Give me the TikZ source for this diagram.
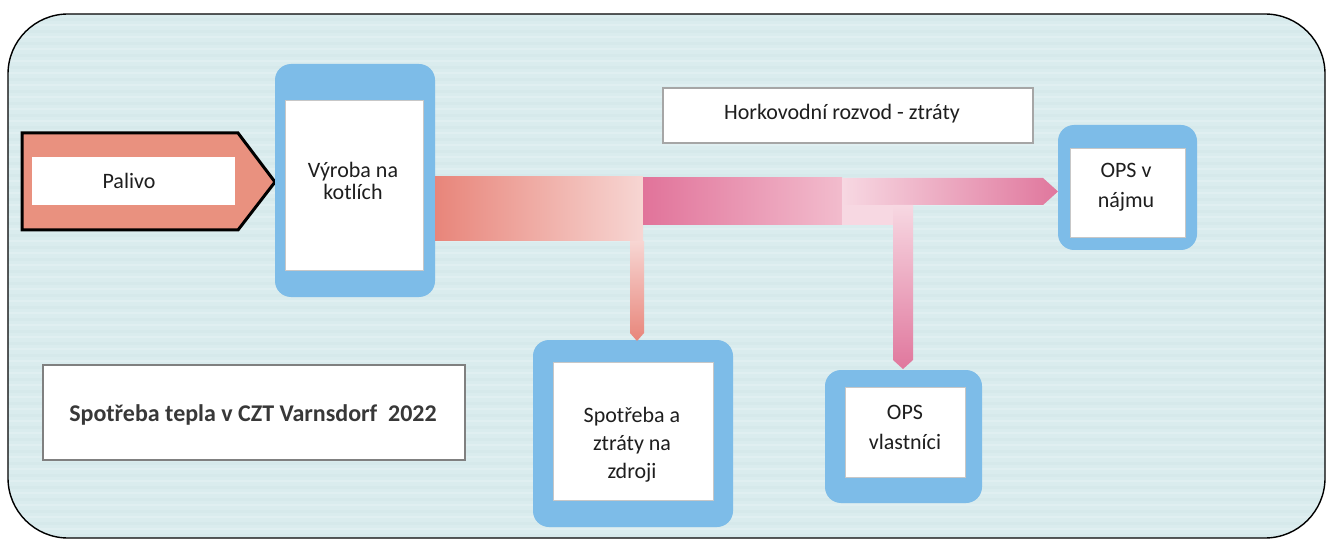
\documentclass[tikz,border=0pt]{standalone}
\usepackage{fontspec}
\setmainfont{Carlito}
\definecolor{bgblue}{HTML}{DAECEE}
\definecolor{bgdark}{HTML}{CFE4E8}
\definecolor{frameblue}{HTML}{7DBCE8}
\definecolor{salmon}{HTML}{E9917F}
\definecolor{salA}{HTML}{E8857A}
\definecolor{salM}{HTML}{F0AEA6}
\definecolor{salB}{HTML}{F7D6D3}
\definecolor{pinkA}{HTML}{E1739A}
\definecolor{pinkM}{HTML}{EA98B4}
\definecolor{pinkB}{HTML}{F2BCCD}
\definecolor{pinkL}{HTML}{F7D8E2}
\definecolor{pinkE}{HTML}{E0779D}
\definecolor{txt}{HTML}{1E1E1E}
\begin{document}
\begin{tikzpicture}[x=1pt,y=-1pt,
  frame/.style={fill=frameblue, rounded corners=16pt, inner sep=0pt, outer sep=0pt},
  wbox/.style={fill=white, draw=black!22, line width=0.8pt, inner sep=0pt, outer sep=0pt},
  gbox/.style={fill=white, draw=black!35, line width=1.2pt, inner sep=0pt, outer sep=0pt},
  lbl/.style={align=center, text=txt, inner sep=0pt, font=\fontsize{22}{23}\selectfont},
]
\useasboundingbox (0,0) rectangle (1328,540);
\fill[white] (0,0) rectangle (1328,540);
% background panel
\begin{scope}
  \clip[rounded corners=60pt] (8,14) rectangle (1325,538);
  \fill[bgblue] (8,14) rectangle (1325,538);
  \foreach \yy in {18,30,...,534} \fill[bgdark,opacity=0.35] (8,\yy) rectangle (1325,\yy+3);
  \foreach \yy in {24,36,...,534} \fill[white,opacity=0.18] (8,\yy) rectangle (1325,\yy+2);
\end{scope}
\draw[black, line width=1.4pt, rounded corners=60pt] (8,14) rectangle (1325,538);

% Palivo arrow
\draw[line width=3pt, fill=salmon, line join=miter] (22,133) -- (238,133) -- (275,182) -- (238,230) -- (22,230) -- cycle;
\node[fill=white, inner sep=0pt, minimum width=203pt, minimum height=48pt] (palivo) at (133.5,181) {};
\node[lbl] (palivoT) at (129,181) {Palivo};

% frames
\node[frame, minimum width=160pt, minimum height=233pt] (vyrobaF) at (355,180.5) {};
\node[wbox, minimum width=138pt, minimum height=170pt] (vyroba) at (354,185) {};
\node[lbl, font=\fontsize{22}{22}\selectfont] (vyrobaT) at (353,181) {Výroba na\\kotlích};

\node[frame, minimum width=200pt, minimum height=187pt] (spotrebaF) at (633,433.5) {};
\node[wbox, minimum width=160pt, minimum height=138pt] (spotreba) at (633,431) {};
\node[lbl, font=\fontsize{22}{28}\selectfont] (spotrebaT) at (632,445) {Spotřeba a\\ztráty na\\zdroji};

\node[frame, minimum width=157pt, minimum height=133pt] (vlastF) at (903.5,436.5) {};
\node[wbox, minimum width=120pt, minimum height=90pt] (vlast) at (905,432) {};
\node[lbl, font=\fontsize{22}{30}\selectfont] (vlastT) at (905,427) {OPS\\vlastníci};

\node[frame, minimum width=139pt, minimum height=125pt] (najmuF) at (1127.5,187.5) {};
\node[wbox, minimum width=115pt, minimum height=89pt] (najmu) at (1127.5,192.5) {};
\node[lbl, font=\fontsize{22}{30}\selectfont] (najmuT) at (1126,187) {OPS v\\nájmu};

% text boxes
\node[gbox, minimum width=370pt, minimum height=55pt] (rozvod) at (848,115.5) {};
\node[lbl] (rozvodT) at (842,114) {Horkovodní rozvod - ztráty};

\node[gbox, draw=black!50, minimum width=422pt, minimum height=95pt] (title) at (254,412.5) {};
\node[lbl, font=\bfseries\fontsize{24}{25}\selectfont, text=black!78] (titleT) at (253,415) {Spotřeba tepla v CZT Varnsdorf~ 2022};

% flow bands
\coordinate (b1s) at (vyrobaF.east |- 0,177);
\coordinate (b1e) at (643,241);
\shade[left color=salA, middle color=salM, right color=salB] (b1s) rectangle (b1e);
\shade[top color=salB, bottom color=salA] (630,241) -- (630,333) -- (637,341) -- (644,333) -- (644,241) -- cycle;

\shade[left color=pinkA, middle color=pinkM, right color=pinkB] (643,178) rectangle (842,225);
\fill[pinkL] (842,205) rectangle (893,225);
\shade[left color=pinkL, right color=pinkE] (842,178) -- (1043,178) -- (najmuF.west |- 0,191.5) -- (1043,205) -- (842,205) -- cycle;
\shade[top color=pinkL, bottom color=pinkE] (893,205) -- (893,360) -- (903,369) -- (913,360) -- (913,205) -- cycle;
\end{tikzpicture}
\end{document}
